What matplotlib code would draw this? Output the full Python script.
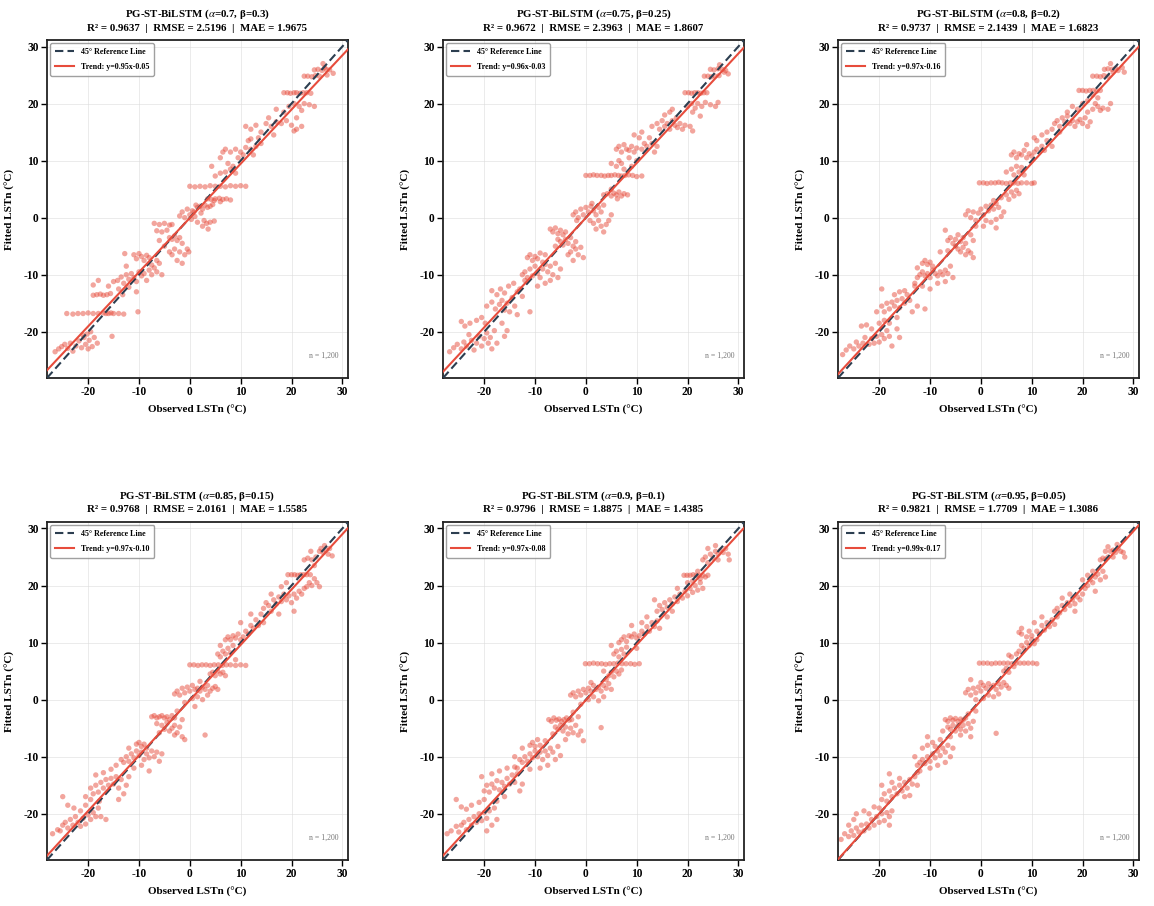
import numpy as np
import matplotlib.pyplot as plt

plt.rcParams['font.family'] = ['Liberation Serif', 'DejaVu Serif']
plt.rcParams['mathtext.fontset'] = 'stix'
plt.rcParams['axes.unicode_minus'] = False

# model settings and reported metrics
alphas = ['0.7', '0.75', '0.8', '0.85', '0.9', '0.95']
betas = ['0.3', '0.25', '0.2', '0.15', '0.1', '0.05']
r2 = ['0.9637', '0.9672', '0.9737', '0.9768', '0.9796', '0.9821']
rmse = ['2.5196', '2.3963', '2.1439', '2.0161', '1.8875', '1.7709']
mae = ['1.9675', '1.8607', '1.6823', '1.5585', '1.4385', '1.3086']
slopes = [0.95, 0.96, 0.97, 0.97, 0.97, 0.99]
intercepts = [-0.05, -0.03, -0.16, -0.10, -0.08, -0.17]
n_label = 'n = 1,200'
ticks = [-20, -10, 0, 10, 20, 30]

# (observed, fitted) pairs
pts_070 = [
    (-26.5,-23.5),(-25.8,-23.0),(-25.2,-22.6),(-24.6,-22.2),(-24.0,-22.9),(-23.5,-22.0),(-23.0,-23.4),(-22.4,-22.5),
    (-21.8,-21.6),(-21.3,-22.8),(-20.8,-21.0),(-20.5,-22.2),(-20.2,-20.4),(-19.8,-21.5),(-19.5,-20.0),(-19.2,-22.6),
    (-18.8,-21.0),(-18.2,-22.0),(-20.0,-23.0),(-21.0,-20.6),(-15.3,-20.8),
    (-24.2,-16.8),(-23.0,-16.9),(-22.0,-16.8),(-21.0,-16.8),(-20.0,-16.7),(-19.0,-16.8),(-18.0,-16.8),(-17.0,-16.7),
    (-16.5,-16.8),(-16.0,-16.8),(-15.5,-16.7),(-15.0,-16.8),(-14.0,-16.8),(-13.0,-16.9),(-10.2,-16.5),
    (-19.0,-13.6),(-18.3,-13.5),(-17.6,-13.4),(-17.0,-13.6),(-16.3,-13.5),(-15.6,-13.3),(-13.2,-13.5),(-19.0,-11.8),(-18.0,-11.0),
    (-16.0,-12.0),(-15.0,-11.2),(-14.2,-11.0),(-13.5,-10.4),(-13.0,-11.5),(-12.5,-10.0),(-12.0,-10.8),(-11.5,-9.8),
    (-11.0,-10.5),(-10.5,-11.2),(-10.0,-9.5),(-9.5,-10.2),(-9.0,-9.8),(-8.5,-11.0),(-8.0,-9.2),(-7.5,-10.0),(-7.0,-8.8),
    (-6.5,-9.5),(-6.0,-8.0),(-5.5,-10.0),(-11.0,-6.5),(-10.5,-7.2),(-10.0,-6.3),(-9.5,-6.8),(-9.0,-7.5),(-8.5,-6.6),
    (-8.0,-7.0),(-12.8,-6.3),(-12.5,-8.5),(-7.5,-8.3),(-6.5,-7.5),(-14.0,-12.5),(-12.0,-12.2),(-10.5,-13.0),
    (-7.0,-1.0),(-6.0,-1.2),(-5.0,-1.0),(-4.0,-1.3),(-3.5,-1.2),(-6.5,-2.3),(-5.5,-2.5),(-4.5,-2.2),(-4.0,-3.5),
    (-3.5,-3.8),(-3.0,-3.2),(-2.5,-4.0),(-2.0,-3.5),(-1.5,-4.5),(-3.0,-5.5),(-2.0,-6.0),(-1.0,-6.5),(-0.5,-5.5),
    (-2.5,-7.5),(-1.5,-8.0),(-0.2,-6.0),(-5.0,-5.0),(-4.0,-6.0),(-3.5,-6.5),(-6.0,-4.0),
    (-1.5,1.0),(-1.0,0.0),(-0.5,1.5),(0.0,0.5),(0.5,1.2),(1.0,0.2),(1.5,1.8),(2.0,2.0),(2.5,1.5),(3.0,2.2),(3.5,1.8),
    (4.0,2.0),(4.5,2.3),(1.2,2.2),(0.3,-0.3),(0.8,1.0),(2.2,0.8),(2.8,-0.5),(3.3,-1.0),(4.0,-0.8),(4.8,-0.6),
    (3.6,-2.0),(2.5,-1.5),(1.5,-0.8),(-2.0,0.3),
    (3.5,3.3),(4.2,3.2),(5.0,3.3),(5.8,3.4),(6.5,3.2),(7.2,3.3),(8.0,3.1),(4.8,3.0),(6.0,2.8),
    (0.0,5.5),(1.0,5.4),(2.0,5.5),(3.0,5.4),(4.0,5.6),(5.0,5.5),(6.0,5.5),(7.0,5.4),(8.0,5.6),(9.0,5.5),(10.0,5.6),(11.0,5.5),
    (5.0,7.3),(6.0,7.8),(7.0,8.0),(8.0,8.5),(9.0,7.8),(8.5,9.0),(7.5,9.5),(6.0,10.5),(6.5,11.5),(7.0,12.0),(8.0,11.5),
    (9.0,12.0),(10.0,11.5),(11.0,12.3),(12.0,12.0),(13.0,12.5),(9.5,10.5),(10.5,11.0),(12.5,11.0),(14.0,13.0),
    (4.3,9.0),(11.5,13.5),(13.5,14.0),(12.0,13.8),
    (11.0,16.0),(12.0,15.5),(13.0,16.2),(14.0,15.0),(15.0,16.5),(15.5,17.5),(16.0,16.0),(17.0,16.8),(18.0,16.5),
    (19.0,17.0),(20.0,16.2),(21.0,17.5),(22.0,16.0),(20.5,15.2),(18.5,18.5),(19.5,19.5),(20.5,20.0),(21.5,19.5),
    (22.5,20.0),(23.5,19.8),(24.5,19.5),(17.0,19.0),(22.0,18.8),(16.5,14.5),(21.0,15.5),
    (18.5,21.9),(19.2,21.9),(19.8,21.8),(20.5,21.9),(21.0,21.9),(21.7,21.8),(22.3,21.9),(23.0,21.9),(23.8,21.8),
    (22.5,24.8),(23.2,24.8),(24.0,24.7),(24.7,24.9),(25.5,24.8),(24.5,25.9),(25.2,26.0),(26.0,25.8),(26.8,26.0),
    (27.5,25.9),(26.5,26.3),(27.0,25.0),(28.2,25.3),(26.2,27.0),
]

pts_075 = [
    (-26.8,-23.5),(-26.0,-22.8),(-25.3,-22.2),(-24.5,-23.0),(-24.0,-21.8),(-23.5,-22.5),(-23.0,-20.5),(-22.5,-21.5),
    (-22.0,-23.2),(-21.5,-22.0),(-21.0,-20.8),(-20.5,-22.5),(-20.0,-21.2),(-19.5,-20.2),(-19.2,-22.0),(-18.8,-21.0),
    (-18.5,-23.0),(-18.0,-19.8),(-17.5,-22.0),(-24.5,-18.2),(-23.8,-19.0),(-22.8,-18.5),(-21.5,-18.0),(-20.5,-17.5),
    (-19.8,-18.5),(-16.0,-20.8),(-15.5,-19.8),(-16.5,-18.5),
    (-19.5,-15.5),(-18.5,-14.8),(-17.8,-16.0),(-17.0,-15.2),(-16.5,-14.5),(-16.0,-16.2),(-15.5,-15.0),(-15.0,-16.5),
    (-14.5,-14.0),(-14.0,-15.5),(-13.5,-13.0),(-17.5,-13.5),(-16.8,-12.5),(-16.0,-13.2),(-15.2,-12.0),(-14.2,-11.5),
    (-13.0,-12.5),(-12.5,-13.8),(-12.0,-11.0),(-18.5,-12.8),(-11.0,-16.5),(-13.5,-17.0),
    (-12.5,-10.0),(-12.0,-9.5),(-11.5,-10.5),(-11.0,-9.0),(-10.5,-10.2),(-10.0,-8.5),(-9.5,-9.8),(-9.0,-10.5),
    (-8.5,-9.0),(-8.0,-8.2),(-7.5,-9.5),(-7.0,-8.5),(-6.5,-10.0),(-6.0,-8.0),(-11.5,-7.0),(-11.0,-6.5),(-10.5,-7.5),
    (-10.0,-6.8),(-9.5,-7.2),(-9.0,-6.2),(-8.5,-7.8),(-8.0,-6.5),(-7.0,-11.0),(-5.5,-10.5),(-9.5,-12.0),(-8.0,-11.5),(-5.0,-9.0),
    (-7.0,-2.0),(-6.5,-2.5),(-6.0,-1.8),(-5.5,-2.8),(-5.0,-2.2),(-4.5,-3.0),(-4.0,-2.5),(-5.5,-3.8),(-5.0,-4.2),
    (-4.5,-4.8),(-4.0,-3.8),(-3.5,-4.5),(-3.0,-3.5),(-2.5,-5.0),(-2.0,-4.2),(-3.0,-6.0),(-2.0,-5.5),(-1.5,-6.5),
    (-1.0,-5.2),(-3.5,-6.5),(-0.5,-7.0),(-2.5,-7.5),(-6.0,-5.0),
    (-2.5,0.5),(-2.0,1.0),(-1.5,0.0),(-1.0,1.5),(-0.5,0.5),(0.0,1.8),(0.5,1.0),(1.0,2.0),(1.5,1.2),(2.0,0.5),(2.5,1.8),
    (3.0,1.0),(3.5,2.2),(0.8,-0.5),(1.5,-1.0),(2.5,-0.5),(3.0,-1.5),(4.0,-1.2),(4.5,-0.5),(3.5,-2.5),(1.2,2.5),
    (-1.8,-0.5),(5.0,0.5),(2.0,-2.0),
    (3.5,4.0),(4.2,4.2),(5.0,3.8),(5.5,4.3),(6.0,4.0),(6.5,4.5),(7.0,3.8),(7.5,4.2),(8.2,4.0),(6.2,3.3),(5.0,5.0),
    (0.0,7.4),(0.8,7.4),(1.5,7.5),(2.2,7.4),(3.0,7.4),(3.7,7.3),(4.4,7.4),(5.0,7.4),(5.7,7.5),(6.4,7.4),(7.0,7.3),
    (7.7,7.4),(8.4,7.5),(9.2,7.4),(10.0,7.2),(11.0,7.3),
    (5.0,9.5),(6.0,9.0),(6.5,10.0),(7.0,9.5),(7.5,8.5),(8.5,10.5),(9.0,9.0),(10.0,10.0),(6.0,12.0),(6.5,12.5),
    (7.0,11.5),(7.5,12.8),(8.0,12.0),(8.5,11.8),(9.0,12.5),(9.5,11.5),(10.0,12.2),(11.0,12.0),(11.5,13.0),(12.0,12.5),
    (13.0,13.0),(14.0,12.5),(12.5,14.0),(10.5,14.0),(11.0,15.0),(9.5,14.5),(13.5,11.5),
    (13.0,16.0),(14.0,16.5),(14.5,15.5),(15.0,17.0),(15.5,16.0),(16.0,16.5),(16.5,15.5),(17.0,17.0),(17.5,16.2),
    (18.0,15.8),(18.5,16.5),(19.0,15.5),(19.5,16.2),(20.5,16.0),(21.0,15.2),(16.5,18.5),(17.0,19.0),(15.5,18.0),
    (20.0,19.5),(20.8,20.0),(21.5,19.2),(22.0,20.0),(22.8,19.5),(23.5,20.2),(24.5,19.8),(25.5,19.5),(26.0,20.2),
    (21.0,18.5),(22.5,17.8),(17.8,17.5),
    (19.5,21.9),(20.2,21.9),(20.8,21.8),(21.4,21.9),(22.0,21.9),(22.6,21.8),(23.2,21.9),(23.8,21.9),
    (23.3,24.8),(24.0,24.8),(24.7,24.7),(25.4,24.8),(26.2,24.9),(24.5,26.0),(25.2,25.9),(26.0,26.1),(26.8,26.0),
    (27.5,25.8),(26.3,26.8),(28.0,25.2),(27.2,25.5),
]

pts_080 = [
    (-27.2,-24.0),(-26.5,-23.2),(-25.8,-22.5),(-25.0,-23.0),(-24.5,-21.8),(-24.0,-22.5),(-23.2,-22.0),(-22.8,-21.0),
    (-22.0,-22.2),(-21.5,-21.2),(-21.0,-22.0),(-20.5,-20.8),(-20.0,-21.8),(-19.5,-20.5),(-19.0,-21.2),(-18.5,-19.8),
    (-18.0,-20.8),(-17.5,-22.5),(-23.5,-19.0),(-22.5,-18.8),(-21.5,-19.5),(-20.0,-18.5),(-19.0,-18.0),(-18.0,-18.5),
    (-16.5,-19.5),(-16.0,-21.0),
    (-20.5,-16.5),(-19.5,-15.5),(-19.0,-16.5),(-18.5,-15.0),(-18.0,-16.0),(-17.5,-14.8),(-17.0,-15.5),(-16.5,-14.5),
    (-16.0,-15.8),(-15.5,-14.2),(-15.0,-15.0),(-14.5,-13.5),(-14.0,-14.5),(-17.0,-13.5),(-16.0,-13.0),(-15.0,-12.8),
    (-19.5,-12.5),(-13.5,-16.5),(-12.5,-15.5),(-13.0,-12.0),(-16.5,-17.5),(-11.0,-16.0),
    (-12.5,-10.5),(-12.0,-10.0),(-11.5,-9.5),(-11.0,-10.2),(-10.5,-9.8),(-10.0,-10.5),(-9.5,-9.2),(-9.0,-9.8),
    (-8.5,-10.2),(-8.0,-9.5),(-7.5,-10.0),(-7.0,-9.2),(-6.5,-9.8),(-11.5,-8.0),(-11.0,-7.5),(-10.5,-8.2),(-10.0,-7.8),
    (-9.5,-8.5),(-12.5,-8.8),(-13.0,-11.5),(-11.5,-12.0),(-10.0,-12.5),(-8.5,-11.5),(-7.0,-11.2),(-6.0,-8.5),(-5.5,-10.5),
    (-6.5,-4.0),(-6.0,-3.5),(-5.5,-4.5),(-5.0,-3.8),(-4.5,-3.0),(-4.0,-4.2),(-3.5,-3.5),(-3.0,-4.5),(-5.0,-5.0),
    (-4.5,-5.5),(-4.0,-6.0),(-3.5,-5.2),(-3.0,-6.5),(-2.5,-5.8),(-2.0,-6.2),(-1.5,-7.0),(-7.0,-2.2),(-6.5,-5.8),
    (-2.0,-3.0),(-1.5,-4.0),(-8.0,-6.0),
    (-3.0,0.5),(-2.5,1.2),(-2.0,0.0),(-1.5,1.0),(-1.0,-0.5),(-0.5,0.8),(0.0,1.5),(0.5,0.5),(1.0,2.0),(1.5,1.2),
    (2.0,2.2),(2.5,1.5),(3.0,2.5),(3.5,1.8),(1.0,-0.5),(2.0,-0.8),(3.0,-0.3),(4.0,0.2),(-1.0,-1.5),(0.5,-1.5),
    (2.5,3.0),(4.5,1.0),(3.0,-1.8),
    (-0.3,6.1),(0.5,6.1),(1.2,6.0),(2.0,6.1),(2.8,6.1),(3.5,6.2),(4.2,6.1),(5.0,6.0),(5.8,6.1),(6.5,6.1),(7.3,6.0),
    (8.0,6.1),(9.0,6.1),(10.0,6.0),(10.5,6.1),(4.0,3.5),(5.0,4.0),(5.5,3.2),(6.0,4.5),(6.5,3.8),(7.0,4.8),(7.5,4.2),
    (5.0,8.0),(6.0,8.5),(6.5,7.5),(7.0,9.0),(7.5,8.0),(8.0,8.8),(8.5,7.5),
    (6.0,11.0),(6.5,11.5),(7.0,10.5),(7.5,11.2),(8.0,11.0),(8.5,11.8),(9.0,10.5),(9.5,11.2),(10.0,10.8),(10.5,11.5),
    (11.0,12.0),(12.0,12.5),(12.5,11.8),(13.0,13.5),(14.0,12.5),(11.0,13.5),(10.5,14.0),(12.0,14.5),(14.0,15.5),
    (13.0,15.0),(9.0,12.8),
    (14.5,16.5),(15.0,17.0),(15.5,16.0),(16.0,17.5),(16.5,16.8),(17.0,17.8),(17.5,16.5),(18.0,17.0),(18.5,16.0),
    (19.0,16.8),(19.5,17.2),(20.0,16.5),(20.5,17.5),(21.0,16.0),(21.5,16.8),(17.0,18.5),(18.0,19.5),(19.0,19.0),
    (20.0,20.0),(21.0,20.5),(22.0,19.0),(22.5,20.0),(23.0,19.5),(23.5,18.8),(24.0,19.2),(25.0,19.0),(25.5,20.0),
    (15.5,15.0),(21.0,18.5),
    (19.3,22.3),(20.0,22.3),(20.7,22.2),(21.4,22.3),(22.1,22.3),(22.8,22.2),(23.5,22.3),(22.0,21.5),(23.0,21.0),
    (22.0,24.8),(22.8,24.8),(23.5,24.7),(24.2,24.9),(25.0,24.8),(24.3,26.0),(25.0,26.1),(25.8,26.0),(26.5,26.2),
    (27.0,25.8),(27.8,26.3),(26.0,25.5),(28.2,25.5),(25.5,27.0),
]

pts_085 = [
    (-27.0,-23.5),(-26.0,-22.8),(-25.5,-23.0),(-25.0,-22.0),(-24.5,-21.5),(-24.0,-22.5),(-23.5,-21.0),(-23.0,-22.0),
    (-22.5,-20.5),(-22.0,-21.5),(-21.5,-22.2),(-21.0,-20.8),(-20.5,-21.8),(-20.0,-20.2),(-19.5,-21.0),(-19.0,-19.8),
    (-18.5,-20.5),(-24.0,-18.5),(-22.8,-19.0),(-21.5,-19.5),(-20.5,-18.5),(-19.5,-17.5),(-18.0,-19.0),(-17.5,-20.5),
    (-16.5,-21.0),(-25.0,-17.0),
    (-19.5,-15.5),(-19.0,-16.5),(-18.5,-15.0),(-18.0,-16.2),(-17.5,-14.5),(-17.0,-15.5),(-16.5,-14.0),(-16.0,-15.0),
    (-15.5,-13.8),(-15.0,-14.8),(-14.5,-13.5),(-14.0,-15.5),(-13.5,-14.0),(-18.5,-13.2),(-17.0,-12.8),(-15.5,-12.2),
    (-13.0,-16.5),(-12.5,-15.0),(-20.5,-17.0),(-14.0,-17.5),(-17.8,-17.8),(-12.0,-13.5),
    (-13.5,-10.5),(-13.0,-11.0),(-12.5,-10.0),(-12.0,-10.8),(-11.5,-9.5),(-11.0,-10.2),(-10.5,-9.0),(-10.0,-9.8),
    (-9.5,-9.2),(-9.0,-10.5),(-8.5,-9.5),(-8.0,-10.2),(-7.5,-9.0),(-7.0,-10.0),(-6.5,-9.2),(-10.5,-7.8),(-10.0,-7.5),
    (-9.5,-8.2),(-9.0,-7.8),(-8.5,-8.5),(-12.0,-8.5),(-14.5,-11.5),(-11.0,-12.0),(-9.5,-11.5),(-6.0,-10.8),(-5.5,-9.5),(-8.0,-12.5),
    (-7.5,-3.0),(-7.0,-2.8),(-6.5,-3.2),(-6.0,-3.0),(-5.5,-2.8),(-5.0,-3.2),(-4.5,-3.0),(-4.0,-3.5),(-3.5,-2.8),
    (-3.0,-3.2),(-6.5,-4.2),(-5.5,-4.5),(-5.0,-5.2),(-4.5,-4.0),(-4.0,-5.5),(-3.5,-5.0),(-3.0,-4.5),(-2.5,-5.8),
    (-2.0,-4.8),(-1.5,-6.5),(-3.0,-6.2),(-1.0,-7.0),(-6.0,-5.8),(-2.5,-2.0),(-1.5,-3.5),
    (-3.0,1.0),(-2.5,1.5),(-2.0,0.8),(-1.5,2.0),(-1.0,1.2),(-0.5,2.2),(0.0,1.5),(0.5,2.5),(1.0,1.8),(1.5,2.0),
    (2.0,1.5),(2.5,2.2),(3.0,1.8),(3.5,2.5),(4.0,1.5),(4.5,2.0),(5.0,2.3),(5.5,1.8),(0.5,0.2),(1.5,0.5),(2.5,0.0),
    (3.5,0.8),(-1.0,-0.5),(1.0,-1.2),(3.0,-6.2),(2.0,3.2),
    (4.0,4.5),(4.5,4.8),(5.0,4.2),(5.5,5.0),(6.0,4.5),(6.5,4.8),(7.0,4.2),(0.0,6.1),(0.8,6.1),(1.6,6.0),(2.4,6.1),
    (3.2,6.1),(4.0,6.0),(4.8,6.1),(5.6,6.1),(6.4,6.0),(7.2,6.1),(8.0,6.1),(9.0,6.0),(10.0,6.1),(11.0,6.0),
    (5.5,8.0),(6.0,7.5),(6.5,8.5),(7.0,8.0),(7.5,9.0),(8.0,8.2),(8.5,9.5),(6.0,9.5),(7.0,10.5),(7.5,11.0),(8.0,10.5),
    (8.5,11.2),(9.0,10.8),(9.5,11.5),(10.0,10.5),(10.5,11.0),(11.0,12.0),(11.5,11.5),(12.0,13.0),(12.5,12.5),
    (13.0,14.0),(13.5,13.0),(14.0,15.0),(12.0,15.0),(14.5,13.5),(10.0,13.5),(9.0,7.0),
    (14.5,16.0),(15.0,17.0),(15.5,16.5),(16.0,15.5),(16.5,17.5),(17.0,16.8),(17.5,18.0),(18.0,17.2),(18.5,18.5),
    (19.0,17.5),(19.5,18.2),(20.0,17.0),(20.5,18.5),(21.0,17.8),(21.5,19.0),(22.0,18.5),(22.5,19.5),(23.0,19.8),
    (23.5,20.5),(24.0,20.0),(25.0,20.5),(25.5,19.8),(19.0,20.5),(18.0,19.8),(16.0,18.5),(20.5,15.5),(17.5,15.0),(24.5,21.2),
    (19.3,21.9),(20.0,21.9),(20.6,21.9),(21.2,21.8),(21.8,21.9),(22.4,21.9),(23.0,21.9),(23.7,21.9),
    (22.5,24.5),(23.2,24.8),(24.0,24.5),(24.8,25.0),(25.5,26.0),(26.2,25.8),(26.8,26.2),(27.2,25.5),(25.8,26.5),
    (26.5,27.0),(28.0,25.2),(27.5,26.5),(24.5,23.5),(23.8,26.0),
]

pts_090 = [
    (-27.3,-23.5),(-26.5,-23.0),(-25.5,-22.2),(-25.0,-23.2),(-24.5,-22.0),(-24.0,-21.5),(-23.5,-22.8),(-23.0,-21.0),
    (-22.5,-22.0),(-22.0,-20.5),(-21.5,-21.5),(-21.0,-20.0),(-20.5,-21.2),(-20.0,-19.8),(-19.5,-20.8),(-19.0,-19.5),
    (-18.5,-22.0),(-24.5,-18.8),(-23.5,-19.2),(-22.5,-18.5),(-21.0,-18.0),(-20.0,-17.5),(-18.0,-19.0),(-17.5,-21.0),
    (-25.5,-17.5),(-19.5,-23.0),
    (-20.0,-16.0),(-19.5,-15.0),(-19.0,-16.2),(-18.5,-14.8),(-18.0,-15.5),(-17.5,-14.2),(-17.0,-15.8),(-16.5,-14.5),
    (-16.0,-15.2),(-15.5,-13.8),(-15.0,-14.8),(-14.5,-13.2),(-14.0,-14.5),(-13.5,-13.0),(-18.5,-13.0),(-17.0,-12.5),
    (-15.5,-12.0),(-13.0,-16.0),(-16.0,-17.0),(-20.5,-13.5),(-12.5,-14.8),(-17.5,-17.8),(-14.0,-11.8),
    (-13.0,-10.5),(-12.5,-11.0),(-12.0,-10.0),(-11.5,-10.8),(-11.0,-9.5),(-10.5,-10.2),(-10.0,-9.0),(-9.5,-10.0),
    (-9.0,-9.2),(-8.5,-10.5),(-8.0,-9.0),(-7.5,-9.8),(-7.0,-8.5),(-6.5,-9.2),(-11.0,-8.0),(-10.5,-7.5),(-10.0,-8.2),
    (-9.5,-7.0),(-9.0,-8.0),(-8.0,-7.2),(-12.5,-8.5),(-13.5,-12.0),(-11.0,-12.2),(-9.0,-12.0),(-6.0,-10.5),(-5.5,-8.2),
    (-7.5,-11.5),(-14.0,-10.0),(-5.0,-9.8),
    (-7.3,-3.5),(-6.8,-3.8),(-6.3,-3.2),(-5.8,-3.6),(-5.3,-3.4),(-4.8,-3.8),(-4.3,-3.5),(-3.8,-3.2),(-3.3,-3.6),
    (-2.8,-3.5),(-6.0,-4.8),(-5.5,-5.2),(-5.0,-4.5),(-4.5,-5.5),(-4.0,-4.8),(-3.5,-6.0),(-3.0,-5.0),(-2.5,-5.8),
    (-2.0,-4.5),(-1.5,-6.2),(-1.0,-5.5),(-2.5,-2.2),(-1.5,-3.0),(-6.5,-6.0),(-4.0,-7.0),(-0.5,-7.2),
    (-3.0,0.8),(-2.5,1.2),(-2.0,0.5),(-1.5,1.5),(-1.0,0.8),(-0.5,1.8),(0.0,1.2),(0.5,2.0),(1.0,1.5),(1.5,2.5),
    (2.0,1.8),(2.5,2.2),(3.0,1.5),(3.5,2.5),(4.0,2.0),(4.5,2.8),(5.0,1.8),(0.5,0.0),(1.5,0.5),(2.5,-0.2),(3.5,0.5),
    (-1.0,-0.8),(3.0,-4.9),(1.0,3.0),(4.0,3.5),
    (-0.1,6.3),(0.7,6.3),(1.5,6.4),(2.3,6.3),(3.1,6.3),(3.9,6.2),(4.7,6.3),(5.5,6.3),(6.3,6.4),(7.1,6.3),(7.9,6.3),
    (8.8,6.3),(9.6,6.2),(10.5,6.3),(4.5,4.2),(5.0,4.8),(5.5,4.0),(6.0,5.0),(6.5,4.5),(7.0,5.2),(3.5,5.0),
    (5.5,8.0),(6.0,8.5),(6.5,7.5),(7.0,8.8),(7.5,8.0),(8.0,9.2),(6.5,10.0),(7.0,10.5),(7.5,11.0),(8.0,10.2),
    (8.5,11.2),(9.0,11.0),(9.5,11.5),(10.0,10.8),(10.5,11.2),(11.0,12.0),(11.5,11.5),(12.0,12.8),(12.5,12.0),
    (13.0,13.5),(13.5,12.8),(14.0,13.8),(12.0,14.5),(11.0,13.5),(14.5,12.5),(9.0,13.0),(10.0,9.0),(5.0,9.5),
    (14.0,15.5),(14.5,16.5),(15.0,15.8),(15.5,17.0),(16.0,16.2),(16.5,17.5),(17.0,16.8),(17.5,18.0),(18.0,17.2),
    (18.5,18.5),(19.0,17.8),(19.5,19.0),(20.0,18.2),(20.5,19.5),(21.0,18.8),(21.5,20.0),(22.0,19.2),(22.5,20.5),
    (23.0,19.5),(21.0,20.8),(20.0,20.5),(18.0,19.5),(17.0,15.5),(13.5,17.5),(16.0,14.5),
    (19.3,21.8),(19.9,21.8),(20.5,21.8),(21.1,21.9),(21.7,21.8),(22.3,21.8),(23.0,21.8),(22.5,21.2),(23.5,21.5),
    (24.0,21.8),(22.0,22.5),
    (23.0,24.5),(23.5,25.0),(24.0,24.0),(24.5,25.5),(25.0,24.8),(25.5,26.0),(26.0,25.5),(26.5,26.2),(27.0,25.8),
    (27.5,26.5),(26.0,24.5),(28.0,25.5),(24.0,26.5),(25.5,27.0),(28.2,24.5),
]

pts_095 = [
    (-27.5,-24.5),(-26.8,-23.5),(-26.0,-24.0),(-25.5,-23.0),(-25.0,-23.8),(-24.5,-22.5),(-24.0,-23.2),(-23.5,-22.0),
    (-23.0,-23.0),(-22.5,-21.8),(-22.0,-22.5),(-21.5,-21.0),(-21.0,-22.0),(-20.5,-20.5),(-20.0,-21.5),(-19.5,-20.0),
    (-19.0,-21.2),(-18.5,-19.8),(-18.0,-20.5),(-24.5,-20.0),(-23.0,-19.5),(-22.0,-20.0),(-25.0,-21.0),(-18.0,-22.0),
    (-17.5,-19.5),(-21.0,-18.8),(-26.0,-22.0),
    (-19.5,-17.5),(-19.0,-16.5),(-18.5,-17.8),(-18.0,-16.0),(-17.5,-17.0),(-17.0,-15.5),(-16.5,-16.5),(-16.0,-15.0),
    (-15.5,-16.0),(-15.0,-14.5),(-14.5,-15.5),(-14.0,-14.0),(-13.5,-14.8),(-13.0,-13.5),(-17.5,-14.5),(-16.0,-13.8),
    (-19.5,-15.0),(-15.0,-17.0),(-14.0,-16.8),(-12.5,-15.0),(-18.0,-13.0),(-20.0,-19.0),(-12.5,-12.8),
    (-12.5,-11.5),(-12.0,-11.0),(-11.5,-10.5),(-11.0,-11.2),(-10.5,-10.0),(-10.0,-10.8),(-9.5,-9.5),(-9.0,-10.2),
    (-8.5,-9.0),(-8.0,-9.8),(-7.5,-8.5),(-7.0,-9.2),(-6.5,-8.0),(-11.5,-8.5),(-10.5,-8.0),(-9.5,-7.5),(-9.0,-8.2),
    (-8.0,-7.0),(-13.0,-10.0),(-12.0,-12.5),(-10.0,-12.0),(-8.5,-11.5),(-6.0,-10.0),(-5.5,-8.5),(-7.0,-11.0),
    (-6.0,-6.5),(-10.5,-6.5),
    (-7.0,-3.5),(-6.5,-3.8),(-6.0,-3.2),(-5.5,-3.6),(-5.0,-3.3),(-4.5,-3.8),(-4.0,-3.4),(-3.5,-3.6),(-3.0,-3.2),
    (-6.5,-4.8),(-6.0,-5.2),(-5.5,-4.5),(-5.0,-5.5),(-4.5,-4.6),(-4.0,-5.2),(-3.5,-4.5),(-3.0,-5.5),(-2.5,-4.2),
    (-2.0,-5.0),(-1.5,-3.8),(-2.5,-2.5),(-1.0,-2.0),(-4.0,-6.2),(-7.5,-5.5),(-2.0,-6.5),
    (-3.0,1.2),(-2.5,1.8),(-2.0,0.8),(-1.5,2.0),(-1.0,1.2),(-0.5,2.2),(0.0,1.5),(0.5,2.5),(1.0,2.0),(1.5,2.8),
    (2.0,2.2),(2.5,2.5),(3.0,1.8),(3.5,2.8),(4.0,2.2),(4.5,3.0),(5.0,2.5),(5.5,2.0),(0.5,0.2),(1.5,0.8),(2.5,0.5),
    (3.5,1.0),(-1.0,0.0),(3.0,-5.9),(0.0,3.0),(-2.0,3.5),
    (-0.3,6.4),(0.5,6.4),(1.3,6.4),(2.1,6.3),(2.9,6.4),(3.7,6.4),(4.5,6.4),(5.3,6.4),(6.1,6.3),(6.9,6.4),(7.7,6.4),
    (8.5,6.4),(9.3,6.4),(10.2,6.4),(11.0,6.3),(4.5,5.0),(5.0,5.5),(5.5,4.8),(6.0,7.5),(6.5,5.8),(7.0,8.0),(5.5,7.8),
    (7.5,8.5),(8.0,9.5),(8.5,9.0),(9.0,10.0),(9.5,9.5),(10.0,10.5),(10.5,9.8),(8.0,11.5),(9.0,11.0),(9.5,12.0),
    (10.0,11.2),(7.5,11.8),(11.0,12.0),(11.5,11.5),(12.0,13.0),(12.5,12.2),(13.0,13.5),(13.5,12.8),(14.0,14.0),
    (14.5,13.2),(12.0,14.5),(11.0,10.5),(8.0,12.5),(10.5,13.5),(15.0,14.5),
    (14.5,15.5),(15.0,16.0),(15.5,15.2),(16.0,16.5),(16.5,15.8),(17.0,17.0),(17.5,16.5),(18.0,17.5),(18.5,16.8),
    (19.0,18.0),(19.5,17.5),(20.0,18.5),(20.5,19.5),(21.0,20.0),(21.5,21.0),(22.0,20.5),(22.5,21.5),(23.0,22.0),
    (21.0,21.8),(20.0,21.0),(22.0,22.5),(23.5,21.0),(24.0,22.5),(24.5,21.5),(17.5,18.5),(16.0,17.8),(18.5,15.5),(22.5,19.0),
    (23.5,24.5),(24.0,24.8),(24.5,24.6),(25.0,25.0),(25.5,26.0),(26.0,26.2),(26.5,25.8),(27.0,26.5),(27.5,26.0),
    (26.0,25.0),(28.0,25.8),(25.0,26.8),(28.3,25.0),(24.5,26.0),(26.8,27.2),
]

panels = [pts_070, pts_075, pts_080, pts_085, pts_090, pts_095]

fig = plt.figure(figsize=(11.54, 9.06), dpi=100)
lefts = [0.0407, 0.3839, 0.7262]
bottoms = [0.5828, 0.0508]
w, h = 0.2608, 0.3728
lim = (-28.1, 31.1)

for i, pts in enumerate(panels):
    ax = fig.add_axes([lefts[i % 3], bottoms[i // 3], w, h])
    xy = np.array(pts)
    ax.scatter(xy[:, 0], xy[:, 1], s=15, color='#e74c3c', alpha=0.5,
               edgecolors='none', zorder=2)
    xs = np.array(lim)
    ax.plot(xs, xs, '--', color='#2c3e50', lw=1.5, dashes=(4, 2),
            label='45° Reference Line', zorder=3)
    ax.plot(xs, slopes[i] * xs + intercepts[i], '-', color='#e74c3c', lw=1.5,
            label=f'Trend: y={slopes[i]:.2f}x{intercepts[i]:+.2f}', zorder=3)
    ax.set_xlim(lim)
    ax.set_ylim(lim)
    ax.set_xticks(ticks)
    ax.set_yticks(ticks)
    ax.grid(True, color='#dddddd', lw=0.7, alpha=0.6, zorder=0)
    ax.set_axisbelow(True)
    for s in ax.spines.values():
        s.set_linewidth(1.3)
        s.set_color('#222222')
    ax.tick_params(labelsize=8.3, length=4, width=1, pad=2)
    for lab in ax.get_xticklabels() + ax.get_yticklabels():
        lab.set_fontweight('bold')
    ax.set_xlabel('Observed LSTn (°C)', fontsize=8, fontweight='bold', labelpad=5)
    ax.set_ylabel('Fitted LSTn (°C)', fontsize=8, fontweight='bold', labelpad=6)
    ax.set_title(f'PG-ST-BiLSTM ($\\alpha$={alphas[i]}, β={betas[i]})\n'
                 f'R² = {r2[i]}  |  RMSE = {rmse[i]}  |  MAE = {mae[i]}',
                 fontsize=7.8, fontweight='bold', pad=7, linespacing=1.35)
    leg = ax.legend(loc='upper left', prop={'weight': 'bold', 'size': 5.8},
                    frameon=True, fancybox=True, edgecolor='#888888',
                    handlelength=2.4, borderpad=0.6, labelspacing=0.8,
                    borderaxespad=0.4)
    leg.get_frame().set_linewidth(1.0)
    ax.text(0.97, 0.055, n_label, transform=ax.transAxes, ha='right', va='bottom',
            fontsize=5.6, color='#777777')

fig.savefig('out.png', dpi=100)
